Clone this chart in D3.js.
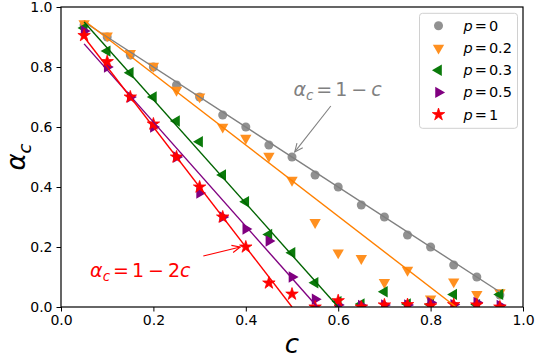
<!DOCTYPE html>
<html>
<head>
<meta charset="utf-8">
<script src="https://cdn.jsdelivr.net/npm/d3@7"></script>
<style>
  body { margin: 0; background: #fff; }
  text { font-family: "DejaVu Sans", sans-serif; }
</style>
</head>
<body>
<div id="chart"></div>
<script>
// Data
const cValues = [0.05, 0.10, 0.15, 0.20, 0.25, 0.30, 0.35, 0.40, 0.45, 0.50,
                 0.55, 0.60, 0.65, 0.70, 0.75, 0.80, 0.85, 0.90, 0.95];
const alphaP0  = [0.94, 0.90, 0.84, 0.80, 0.74, 0.70, 0.64, 0.60, 0.54, 0.50,
                  0.44, 0.40, 0.34, 0.30, 0.24, 0.20, 0.14, 0.10, 0.04];
const alphaP02 = [0.945, 0.904, 0.846, 0.803, 0.723, 0.701, 0.60, 0.563, 0.503, 0.423,
                  0.282, 0.181, 0.162, 0.082, 0.123, 0.027, 0.084, 0.042, 0.048];
const alphaP03 = [0.93, 0.853, 0.781, 0.70, 0.62, 0.551, 0.44, 0.351, 0.242, 0.181,
                  0.081, 0.018, 0.01, 0.051, 0.01, 0.008, 0.042, 0.008, 0.042];
const alphaP05 = [0.92, 0.80, 0.70, 0.60, 0.50, 0.38, 0.30, 0.26, 0.22, 0.10,
                  0.026, 0.007, 0.005, 0.007, 0.007, 0.015, 0.008, 0.015, 0.005];
const alphaP1  = [0.905, 0.818, 0.70, 0.61, 0.50, 0.40, 0.30, 0.20, 0.08, 0.043,
                  0.0, 0.021, 0.0, 0.007, 0.008, 0.004, 0.008, 0.007, 0.0];

// theory lines (end points)
const lineP0  = [[0.05, 0.95], [0.95, 0.05]];
const lineP02 = [[0.05, 0.955], [0.855, 0.0]];
const lineP03 = [[0.05, 0.95], [0.60, 0.0]];
const lineP05 = [[0.05, 0.877], [0.555, 0.0]];
const lineP1  = [[0.05, 0.90], [0.50, 0.0]];

const legendLabels = ["0", "0.2", "0.3", "0.5", "1"];
const xTicks = [0.0, 0.2, 0.4, 0.6, 0.8, 1.0];
const yTicks = [0.0, 0.2, 0.4, 0.6, 0.8, 1.0];

const series = [
    { label: legendLabels[0], values: alphaP0,  line: lineP0,  color: "#808080", marker: "#919191", shape: "circle" },
    { label: legendLabels[1], values: alphaP02, line: lineP02, color: "#ff8000", marker: "#ff9020", shape: "down" },
    { label: legendLabels[2], values: alphaP03, line: lineP03, color: "#006400", marker: "#0a7a0a", shape: "left" },
    { label: legendLabels[3], values: alphaP05, line: lineP05, color: "#800080", marker: "#800080", shape: "right" },
    { label: legendLabels[4], values: alphaP1,  line: lineP1,  color: "#ff0000", marker: "#ff0000", shape: "star" }
];

// Dimensions
const dimensions = {
    width: 536,
    height: 358,
    margin: { top: 7, right: 13, bottom: 51, left: 61 }
};
dimensions.containerWidth = dimensions.width - dimensions.margin.left - dimensions.margin.right;
dimensions.containerHeight = dimensions.height - dimensions.margin.top - dimensions.margin.bottom;

const svg = d3.select("#chart")
    .append("svg")
    .attr("width", dimensions.width)
    .attr("height", dimensions.height);

const container = svg.append("g")
    .attr("transform", `translate(${dimensions.margin.left}, ${dimensions.margin.top})`);

// Scales
const xScale = d3.scaleLinear().domain([0, 1]).range([0, dimensions.containerWidth]);
const yScale = d3.scaleLinear().domain([0, 1]).range([dimensions.containerHeight, 0]);

container.append("clipPath").attr("id", "clip")
    .append("rect")
    .attr("width", dimensions.containerWidth)
    .attr("height", dimensions.containerHeight);

const plot = container.append("g").attr("clip-path", "url(#clip)");

function symbolPath(shape) {
    if (shape === "circle") return d3.symbol(d3.symbolCircle, 64)();
    if (shape === "star") return d3.symbol(d3.symbolStar, 48)();
    return d3.symbol(d3.symbolTriangle, 56)();
}
function symbolRotate(shape) {
    if (shape === "down") return 180;
    if (shape === "left") return -90;
    if (shape === "right") return 90;
    return 0;
}

// Markers
series.forEach(s => {
    plot.append("g").selectAll("path")
        .data(cValues.map((c, i) => [c, s.values[i]]))
        .join("path")
        .attr("d", symbolPath(s.shape))
        .attr("transform", d => `translate(${xScale(d[0])},${yScale(d[1])}) rotate(${symbolRotate(s.shape)})`)
        .attr("fill", s.marker)
        .attr("stroke", s.shape === "star" ? s.marker : "none")
        .attr("stroke-width", 0.8)
        .attr("stroke-linejoin", "round");
});

// Lines
const lineGen = d3.line().x(d => xScale(d[0])).y(d => yScale(d[1]));
series.forEach(s => {
    plot.append("path")
        .attr("d", lineGen(s.line))
        .attr("fill", "none")
        .attr("stroke", s.color)
        .attr("stroke-width", 1.4);
});

// Axes
const xAxis = d3.axisBottom(xScale).tickValues(xTicks).tickFormat(d3.format(".1f")).tickSizeOuter(0).tickSize(4.5).tickPadding(4);
const yAxis = d3.axisLeft(yScale).tickValues(yTicks).tickFormat(d3.format(".1f")).tickSizeOuter(0).tickSize(4.5).tickPadding(4);

const xAxisGroup = container.append("g")
    .attr("transform", `translate(0, ${dimensions.containerHeight})`)
    .call(xAxis);
const yAxisGroup = container.append("g").call(yAxis);

[xAxisGroup, yAxisGroup].forEach(g => {
    g.attr("font-size", null).attr("font-family", null);
    g.select(".domain").remove();
    g.selectAll("line").attr("stroke", "#000").attr("stroke-width", 1);
    g.selectAll(".tick text").attr("fill", "#000").style("font-size", "14px");
});

// frame
container.append("rect")
    .attr("width", dimensions.containerWidth)
    .attr("height", dimensions.containerHeight)
    .attr("fill", "none")
    .attr("stroke", "#000")
    .attr("stroke-width", 1.2);

// Axis labels
xAxisGroup.append("text")
    .attr("x", dimensions.containerWidth / 2)
    .attr("y", 46)
    .attr("fill", "#000")
    .attr("text-anchor", "middle")
    .style("font-size", "26px")
    .style("font-style", "italic")
    .text("c");

const yLabel = yAxisGroup.append("text")
    .attr("transform", `translate(-36, ${dimensions.containerHeight / 2}) rotate(-90)`)
    .attr("fill", "#000")
    .attr("text-anchor", "middle")
    .style("font-size", "26px");
yLabel.append("tspan").style("font-style", "italic").text("α");
yLabel.append("tspan").style("font-style", "italic").style("font-size", "18px").attr("dy", 6).text("c");

// Annotations
function mathLabel(g, x, y, color, rhs) {
    const t = g.append("text")
        .attr("x", x).attr("y", y)
        .attr("fill", color)
        .style("font-size", "19px");
    t.append("tspan").style("font-style", "italic").text("α");
    t.append("tspan").style("font-style", "italic").style("font-size", "13.5px").attr("dy", 4).text("c");
    t.append("tspan").attr("dy", -4).attr("dx", 3).text("=");
    t.append("tspan").attr("dx", 3).text("1");
    t.append("tspan").attr("dx", 4).text("−");
    rhs.forEach(r => {
        t.append("tspan").attr("dx", r.dx).style("font-style", r.italic ? "italic" : "normal").text(r.s);
    });
}

function arrow(g, from, to, color) {
    const x1 = xScale(from[0]), y1 = yScale(from[1]);
    const x2 = xScale(to[0]), y2 = yScale(to[1]);
    g.append("line")
        .attr("x1", x1).attr("y1", y1).attr("x2", x2).attr("y2", y2)
        .attr("stroke", color).attr("stroke-width", 1.1);
    const ang = Math.atan2(y2 - y1, x2 - x1);
    const len = 9, spread = 0.42;
    const head = [
        [x2 - len * Math.cos(ang - spread), y2 - len * Math.sin(ang - spread)],
        [x2, y2],
        [x2 - len * Math.cos(ang + spread), y2 - len * Math.sin(ang + spread)]
    ];
    g.append("path")
        .attr("d", d3.line()(head))
        .attr("fill", "none")
        .attr("stroke", color)
        .attr("stroke-width", 1.1);
}

mathLabel(container, xScale(0.503), yScale(0.703), "#808080", [{ s: "c", italic: true, dx: 4 }]);
arrow(container, [0.584, 0.67], [0.506, 0.517], "#808080");

mathLabel(container, xScale(0.063), yScale(0.101), "#ff0000", [{ s: "2", dx: 4 }, { s: "c", italic: true, dx: 0 }]);
arrow(container, [0.308, 0.17], [0.388, 0.20], "#ff0000");

// Legend
const legend = container.append("g")
    .attr("transform", `translate(${xScale(0.776)}, ${yScale(0.979)})`);
legend.append("rect")
    .attr("width", 98).attr("height", 115)
    .attr("rx", 3)
    .attr("fill", "#fff")
    .attr("fill-opacity", 0.8)
    .attr("stroke", "#d0d0d0");

series.forEach((s, i) => {
    const row = legend.append("g").attr("transform", `translate(0, ${12.5 + i * 22.2})`);
    row.append("path")
        .attr("d", symbolPath(s.shape))
        .attr("transform", `translate(19, 0) rotate(${symbolRotate(s.shape)})`)
        .attr("fill", s.marker)
        .attr("stroke", s.shape === "star" ? s.marker : "none")
        .attr("stroke-width", 0.8)
        .attr("stroke-linejoin", "round");
    const t = row.append("text")
        .attr("x", 44).attr("y", 5)
        .attr("fill", "#000")
        .style("font-size", "14.5px");
    t.append("tspan").style("font-style", "italic").text("p");
    t.append("tspan").attr("dx", 2).text("=");
    t.append("tspan").attr("dx", 2).text(s.label);
});
</script>
</body>
</html>
